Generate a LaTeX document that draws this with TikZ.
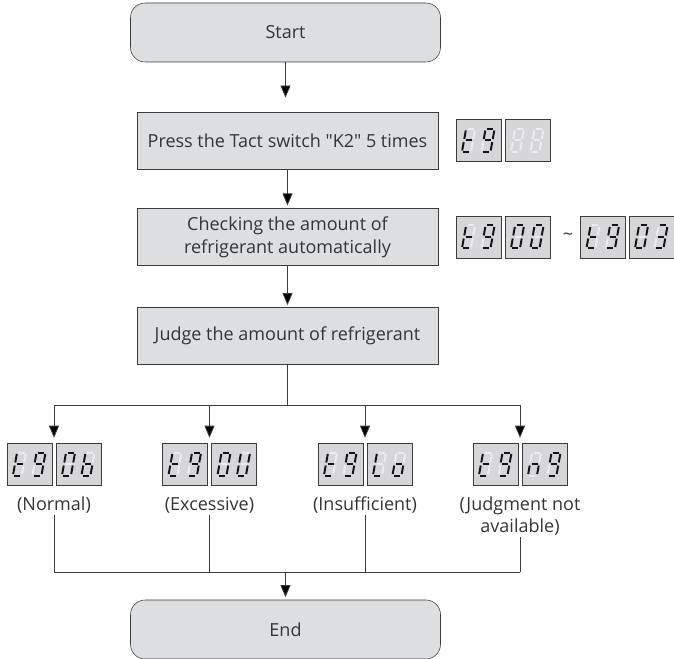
\documentclass[tikz,border=0pt]{standalone}
\usepackage{fontspec}
\setmainfont{Open Sans}
\usetikzlibrary{arrows.meta,positioning,calc}
\definecolor{boxgrey}{RGB}{221,222,224}
\definecolor{dispgrey}{RGB}{214,214,216}
\definecolor{edgegrey}{RGB}{60,60,60}
\definecolor{textgrey}{RGB}{52,52,52}
\definecolor{segdim}{RGB}{236,236,237}
\definecolor{segdark}{RGB}{20,20,20}

% segments of one 7-segment digit (local px, y grows downwards)
\def\sega{(-3,-11.5)--(3,-11.5)}
\def\segb{(4.5,-10)--(4.5,-1.5)}
\def\segc{(4.5,1.5)--(4.5,10)}
\def\segd{(-3,11.5)--(3,11.5)}
\def\sege{(-4.5,1.5)--(-4.5,10)}
\def\segf{(-4.5,-10)--(-4.5,-1.5)}
\def\segg{(-3,0)--(3,0)}
\def\segnone{}

% one digit: display node, x offset, lit segments
\newcommand{\sdigit}[3]{%
  \begin{scope}[shift={(#1.center)},shift={(#2,0)},xslant=0.18]
    \foreach \sgm in {a,b,c,d,e,f,g} \draw[segoff] \csname seg\sgm\endcsname;
    \foreach \sgm in {#3} \draw[segon] \csname seg\sgm\endcsname;
  \end{scope}}
% one display window with two digits
\newcommand{\dispbox}[4]{%
  \node[disp] (#1) at (#2) {};
  \sdigit{#1}{-10}{#3}
  \sdigit{#1}{9.5}{#4}}

\begin{document}
\begin{tikzpicture}[x=0.75pt, y=-0.75pt,
    font=\fontsize{13.5}{17}\selectfont, text=textgrey,
    term/.style={rectangle, draw=edgegrey, rounded corners=11pt, fill=boxgrey,
                 minimum width=232.5pt, minimum height=44.25pt},
    stepbox/.style={rectangle, draw=edgegrey, fill=boxgrey, align=center,
                    minimum width=225.75pt, minimum height=43pt},
    disp/.style={rectangle, draw=edgegrey, fill=dispgrey,
                 minimum width=33.75pt, minimum height=31.5pt, inner sep=0pt},
    segon/.style={draw=segdark, line width=1.5pt},
    segoff/.style={draw=segdim, line width=1.5pt},
    lab/.style={inner sep=1pt, align=center},
    line/.style={draw=edgegrey, line width=0.6pt},
    arr/.style={line, -{Triangle[length=9pt,width=7.5pt,fill=black]}}]
\useasboundingbox (0,0) rectangle (674,659);
% main column
\node[term] (start) at (285.5,32.5) {Start};
\node[stepbox] (press) at (287.5,140.5) {Press the Tact switch \textquotedbl K2\textquotedbl\ 5 times};
\node[stepbox] (check) at (287.5,237) {Checking the amount of\\refrigerant automatically};
\node[stepbox] (judge) at (287.5,336) {Judge the amount of refrigerant};
\node[term] (end) at (285.5,629.5) {End};
\draw[arr, shorten >=10.5pt] (start.south) -- (start.south |- press.north);
\draw[arr, shorten >=2pt] (press) -- (check);
\draw[arr, shorten >=1.5pt] (check) -- (judge);
% displays beside the steps
\dispbox{pa}{478.5,140.5}{d,e,f,g}{a,b,c,d,f,g}
\dispbox{pb}{527.5,140.5}{none}{none}
\dispbox{ca}{478.5,237}{d,e,f,g}{a,b,c,d,f,g}
\dispbox{cb}{527.5,237}{a,b,c,d,e,f}{a,b,c,d,e,f}
\node (tilde) at (568,237) {\textasciitilde};
\dispbox{cc}{603,237}{d,e,f,g}{a,b,c,d,f,g}
\dispbox{cd}{651.5,237}{a,b,c,d,e,f}{a,b,c,d,g}
% result displays
\dispbox{ok1}{29.5,464}{d,e,f,g}{a,b,c,d,f,g}
\dispbox{ok2}{78.5,464}{a,b,c,d,e,f}{d,e,f,g,c}
\dispbox{ex1}{185,464}{d,e,f,g}{a,b,c,d,f,g}
\dispbox{ex2}{234,464}{a,b,c,d,e,f}{b,c,d,e,f}
\dispbox{in1}{340.5,464}{d,e,f,g}{a,b,c,d,f,g}
\dispbox{in2}{389.5,464}{d,e,f}{c,d,e,g}
\dispbox{na1}{495.5,464}{d,e,f,g}{a,b,c,d,f,g}
\dispbox{na2}{544.5,464}{c,e,g}{a,b,c,d,f,g}
% result captions
\node[lab] (oklab) at (54,505) {(Normal)};
\node[lab] (exlab) at (209.5,505) {(Excessive)};
\node[lab] (inlab) at (365,505) {(Insufficient)};
\node[lab] (nalab) at (520,516) {(Judgment not\\available)};
% fork towards the results
\coordinate (fork) at (287.5,405);
\coordinate (okin) at ($(ok1.north east)!0.5!(ok2.north west)$);
\coordinate (exin) at ($(ex1.north east)!0.5!(ex2.north west)$);
\coordinate (inin) at ($(in1.north east)!0.5!(in2.north west)$);
\coordinate (nain) at ($(na1.north east)!0.5!(na2.north west)$);
\draw[line] (judge) -- (fork);
\draw[line] (fork -| okin) -- (fork -| nain);
\foreach \r in {okin,exin,inin,nain}
  \draw[arr, shorten >=3.75pt] (fork -| \r) -- (\r);
% join towards the end
\coordinate (join) at (285.5,572);
\foreach \r in {oklab,exlab,inlab,nalab}
  \draw[line] (\r) -- (\r |- join);
\draw[line] (oklab |- join) -- (nalab |- join);
\draw[arr, shorten >=2pt] (join) -- (end);
\end{tikzpicture}
\end{document}
